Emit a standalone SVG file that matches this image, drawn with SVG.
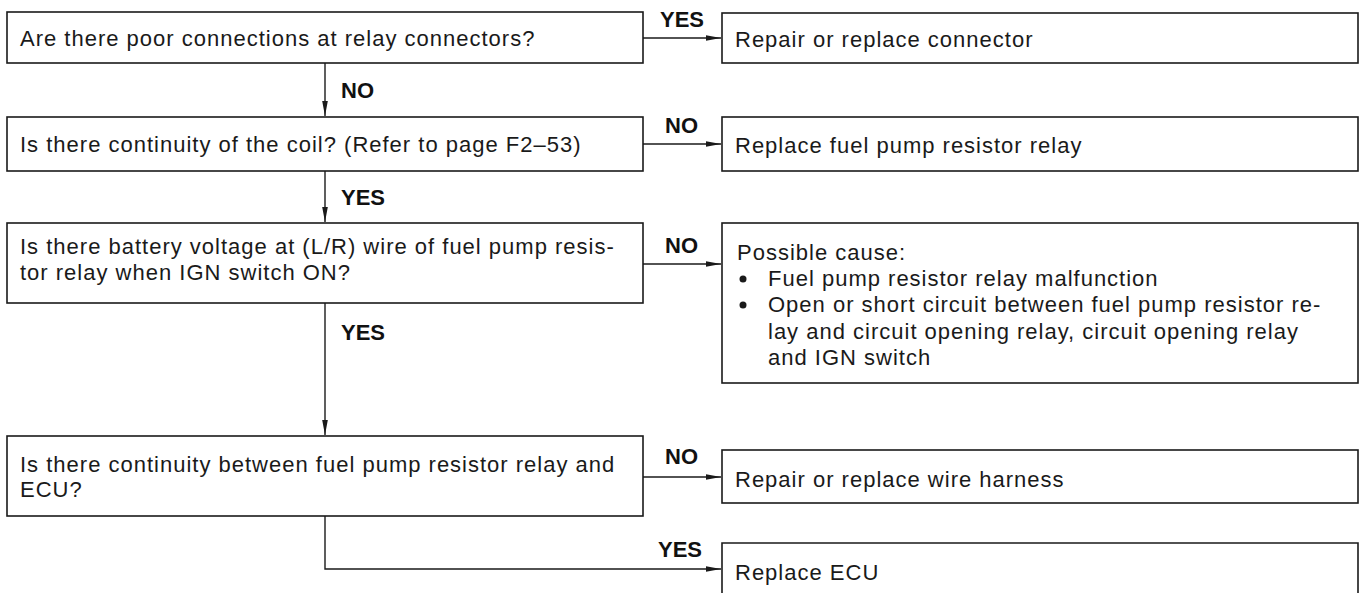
<svg xmlns="http://www.w3.org/2000/svg" width="1361" height="593" viewBox="0 0 1361 593">
<style>
.box{fill:#fff;stroke:#1a1a1a;stroke-width:1.6}
.t{font-family:"Liberation Sans",Arial,sans-serif;font-size:22px;letter-spacing:1px;fill:#1a1a1a}
.lb{font-family:"Liberation Sans",Arial,sans-serif;font-size:22px;font-weight:bold;fill:#111}
.ln{fill:none;stroke:#1a1a1a;stroke-width:1.4}
</style>
<defs>
<marker id="ah" viewBox="0 0 15 8" refX="15" refY="4" markerWidth="15" markerHeight="8" markerUnits="userSpaceOnUse" orient="auto">
<path d="M0,1.2 L15,4 L0,6.8 Z" fill="#1a1a1a"/>
</marker>
</defs>
<rect width="1361" height="593" fill="#fff"/>
<g id="connectors">
<path class="ln" d="M643,38 H721" marker-end="url(#ah)"/>
<path class="ln" d="M325,63 V116" marker-end="url(#ah)"/>
<path class="ln" d="M643,144 H721" marker-end="url(#ah)"/>
<path class="ln" d="M325,171 V222" marker-end="url(#ah)"/>
<path class="ln" d="M643,264 H721" marker-end="url(#ah)"/>
<path class="ln" d="M325,303 V435" marker-end="url(#ah)"/>
<path class="ln" d="M643,477 H721" marker-end="url(#ah)"/>
<path class="ln" d="M325,516 V569 H721" marker-end="url(#ah)"/>
<text class="lb" x="660" y="27">YES</text>
<text class="lb" x="341" y="98">NO</text>
<text class="lb" x="665" y="133">NO</text>
<text class="lb" x="341" y="205">YES</text>
<text class="lb" x="665" y="253">NO</text>
<text class="lb" x="341" y="340">YES</text>
<text class="lb" x="665" y="464">NO</text>
<text class="lb" x="658" y="557">YES</text>
</g>
<g id="q1">
<rect class="box" x="7" y="12" width="636" height="51"/>
<text class="t" x="20" y="46">Are there poor connections at relay connectors?</text>
</g>
<g id="a1">
<rect class="box" x="722" y="13" width="636" height="50"/>
<text class="t" x="735" y="47">Repair or replace connector</text>
</g>
<g id="q2">
<rect class="box" x="7" y="117" width="636" height="54"/>
<text class="t" x="20" y="152">Is there continuity of the coil? (Refer to page F2–53)</text>
</g>
<g id="a2">
<rect class="box" x="722" y="117" width="636" height="54"/>
<text class="t" x="735" y="153">Replace fuel pump resistor relay</text>
</g>
<g id="q3">
<rect class="box" x="7" y="223" width="636" height="80"/>
<text class="t" x="20" y="254">Is there battery voltage at (L/R) wire of fuel pump resis-</text>
<text class="t" x="20" y="280">tor relay when IGN switch ON?</text>
</g>
<g id="a3">
<rect class="box" x="722" y="223" width="636" height="160"/>
<text class="t" x="737" y="260">Possible cause:</text>
<circle cx="743" cy="279" r="3.5" fill="#1a1a1a"/>
<text class="t" x="768" y="286">Fuel pump resistor relay malfunction</text>
<circle cx="743" cy="305" r="3.5" fill="#1a1a1a"/>
<text class="t" x="768" y="312">Open or short circuit between fuel pump resistor re-</text>
<text class="t" x="768" y="339">lay and circuit opening relay, circuit opening relay</text>
<text class="t" x="768" y="365">and IGN switch</text>
</g>
<g id="q4">
<rect class="box" x="7" y="436" width="636" height="80"/>
<text class="t" x="20" y="472">Is there continuity between fuel pump resistor relay and</text>
<text class="t" x="20" y="497">ECU?</text>
</g>
<g id="a4">
<rect class="box" x="722" y="450" width="636" height="53"/>
<text class="t" x="735" y="487">Repair or replace wire harness</text>
</g>
<g id="a5">
<path class="box" d="M722,600 V543 H1358 V600"/>
<text class="t" x="735" y="580">Replace ECU</text>
</g>
</svg>
